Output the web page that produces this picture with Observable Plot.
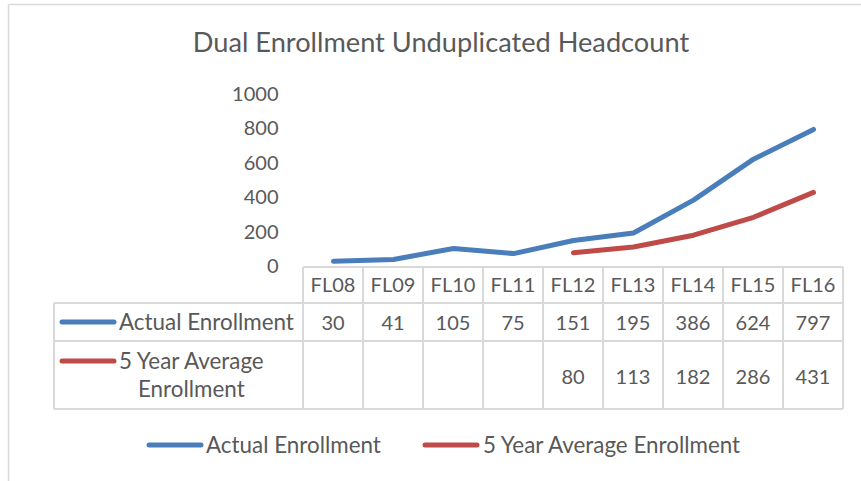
<!DOCTYPE html>
<html><head>
<meta charset="utf-8">
<script src="https://cdn.jsdelivr.net/npm/d3@7"></script>
<script src="https://cdn.jsdelivr.net/npm/@observablehq/plot@0.6"></script>
<style>
body{margin:0;background:#fff;}
#wrap{position:relative;width:861px;height:481px;overflow:hidden;font-family:Lato,sans-serif;color:#595959}
#wrap svg{position:absolute;left:0;top:0}
</style></head><body><div id="wrap"></div>
<script>
const title = "Dual Enrollment Unduplicated Headcount";
const categories = ["FL08","FL09","FL10","FL11","FL12","FL13","FL14","FL15","FL16"];
const actual = [30,41,105,75,151,195,386,624,797];
const average = [null,null,null,null,80,113,182,286,431];
const seriesNames = ["Actual Enrollment","5 Year Average Enrollment"];
const seriesColors = ["#4a7ebb","#be4b48"];
const yTicks = [0,200,400,600,800,1000];

const rows = [];
categories.forEach((c,i)=>{
  if (actual[i]!=null) rows.push({cat:c, value:actual[i], series:seriesNames[0]});
});
categories.forEach((c,i)=>{
  if (average[i]!=null) rows.push({cat:c, value:average[i], series:seriesNames[1]});
});

const NUM = 20;   // numbers and column headers
const LAB = 22.4; // word labels
const plot = Plot.plot({
  width:861, height:481,
  marginLeft:302, marginRight:18, marginTop:94, marginBottom:215,
  x:{type:"point", domain:categories, padding:0.5, axis:null},
  y:{domain:[0,1000], axis:null},
  color:{domain:seriesNames, range:seriesColors},
  style:{fontFamily:"Lato, sans-serif", color:"#595959", background:"transparent", overflow:"visible"},
  marks:[
    Plot.axisY({ticks:yTicks, tickSize:0, tickPadding:24, tickFormat:d=>String(d), fontSize:NUM, label:null}),
    Plot.line(rows, {x:"cat", y:"value", z:"series", stroke:"series", strokeWidth:5, strokeLinecap:"round", strokeLinejoin:"round"})
  ]
});
const wrap = document.getElementById("wrap");

const xs = plot.scale("x");
const step = xs.step;
const cx = c => xs.apply(c);
const W = 861, H = 481;
const svg = d3.create("svg").attr("width",W).attr("height",H)
  .attr("font-family","Lato, sans-serif").attr("fill","#595959");
wrap.appendChild(svg.node());
wrap.appendChild(plot);
const grid = "#d9d9d9";
// frame
svg.append("line").attr("x1",8.5).attr("x2",W).attr("y1",4.5).attr("y2",4.5).attr("stroke",grid).attr("stroke-width",1.5);
svg.append("line").attr("x1",8.5).attr("x2",8.5).attr("y1",4.5).attr("y2",H).attr("stroke",grid).attr("stroke-width",1.5);
// title
svg.append("text").attr("x",441).attr("y",52).attr("text-anchor","middle").attr("font-size",27.2).text(title);

// table
const left = cx(categories[0]) - step/2, right = cx(categories[categories.length-1]) + step/2;
const tLeft = 54, yTop = 267, yH = 303, yR1 = 341, yR2 = 409;
const g = svg.append("g").attr("stroke",grid).attr("stroke-width",2);
g.append("line").attr("x1",left).attr("x2",right).attr("y1",yTop).attr("y2",yTop);
[yH,yR1,yR2].forEach(y=>g.append("line").attr("x1",tLeft).attr("x2",right).attr("y1",y).attr("y2",y));
g.append("line").attr("x1",tLeft).attr("x2",tLeft).attr("y1",yH).attr("y2",yR2);
categories.forEach(c=>{
  g.append("line").attr("x1",cx(c)-step/2).attr("x2",cx(c)-step/2).attr("y1",yTop).attr("y2",yR2);
});
g.append("line").attr("x1",right).attr("x2",right).attr("y1",yTop).attr("y2",yR2);

const t = svg.append("g").attr("font-size",NUM);
categories.forEach((c,i)=>{
  t.append("text").attr("x",cx(c)).attr("y",292).attr("text-anchor","middle").text(c);
  if (actual[i]!=null) t.append("text").attr("x",cx(c)).attr("y",330).attr("text-anchor","middle").text(actual[i]);
  if (average[i]!=null) t.append("text").attr("x",cx(c)).attr("y",384).attr("text-anchor","middle").text(average[i]);
});
function key(x1,x2,y,color){
  svg.append("line").attr("x1",x1).attr("x2",x2).attr("y1",y).attr("y2",y)
    .attr("stroke",color).attr("stroke-width",5).attr("stroke-linecap","round");
}
const L = svg.append("g").attr("font-size",LAB);
key(62,114,322,seriesColors[0]);
L.append("text").attr("x",119).attr("y",330).text(seriesNames[0]);
key(62,114,361,seriesColors[1]);
const words = seriesNames[1].split(" ");
const l1 = L.append("text").attr("x",119).attr("y",369).text(words.slice(0,3).join(" "));
const w1 = l1.node().getComputedTextLength();
L.append("text").attr("x",119 + w1/2).attr("y",397).attr("text-anchor","middle").text(words.slice(3).join(" "));

// bottom legend
key(149,201,445,seriesColors[0]);
L.append("text").attr("x",206).attr("y",453).text(seriesNames[0]);
key(425,477,445,seriesColors[1]);
L.append("text").attr("x",483).attr("y",453).text(seriesNames[1]);
</script></body></html>
